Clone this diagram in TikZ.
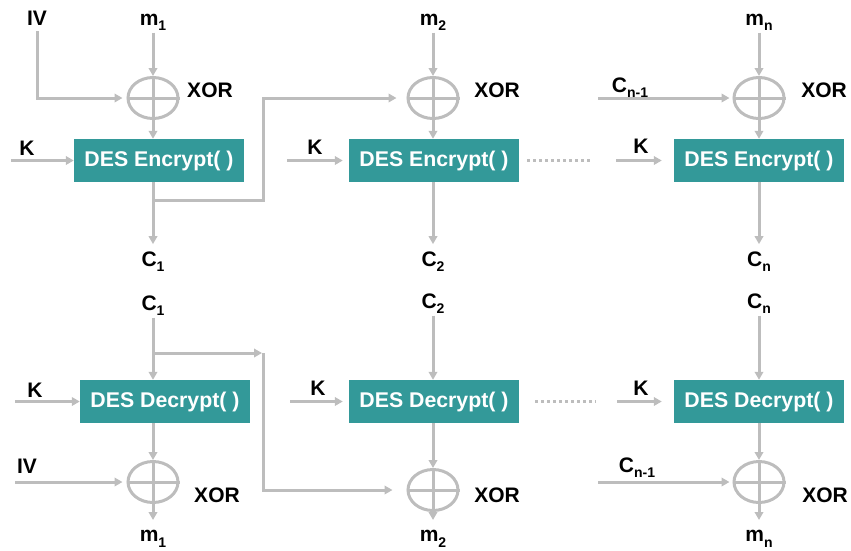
\documentclass[tikz,border=0pt]{standalone}
\usepackage{fontspec}
\setmainfont{Liberation Sans}
\usetikzlibrary{arrows.meta,shapes.geometric}
\definecolor{wirec}{HTML}{BDBDBD}
\definecolor{desfill}{HTML}{339999}
% lowered, smaller index used in the signal names
\newcommand{\idx}[1]{\raisebox{-5.5pt}{\fontsize{14}{14}\selectfont #1}}
\begin{document}
\begin{tikzpicture}[x=1pt,y=-1pt,
  wire/.style={draw=wirec, line width=3pt},
  arr/.style={wire, -{Triangle[length=8pt,width=8.5pt]}},
  xorop/.style={ellipse, draw=wirec, line width=3pt, minimum width=50pt, minimum height=41pt, inner sep=0pt},
  desbox/.style={fill=desfill, minimum width=170pt, minimum height=43pt, inner sep=0pt, text=white, font=\fontsize{21.3}{24}\selectfont\bfseries},
  lbl/.style={anchor=base, inner sep=2pt, font=\fontsize{21}{24}\selectfont\bfseries},
  dots/.style={draw=wirec, line width=3pt, dash pattern=on 3pt off 3pt}]
\useasboundingbox (0,0) rectangle (851,550);

% ---------- encryption chain ----------
% block 1
\node[lbl] (m1) at (153,25) {m\idx{1}};
\node[lbl] (iv1) at (37,25) {IV};
\node[xorop] (x1) at (153,98) {};
\node[lbl] (xl1) at (210,97) {XOR};
\node[desbox] (e1) at (159,160.5) {DES Encrypt( )};
\node[lbl] (k1) at (27,155) {K};
\node[lbl] (c1) at (153,266) {C\idx{1}};
\coordinate (k1s) at (11,160.5);
\coordinate (t1) at (153,200);
\coordinate (fb1) at (263,98);

% block 2
\node[lbl] (m2) at (433,25) {m\idx{2}};
\node[xorop] (x2) at (433,98) {};
\node[lbl] (xl2) at (497,97) {XOR};
\node[desbox] (e2) at (434,160.5) {DES Encrypt( )};
\node[lbl] (k2) at (315,154) {K};
\node[lbl] (c2) at (433,266) {C\idx{2}};
\coordinate (k2s) at (287,160.5);

% block n
\node[lbl] (mn) at (759,25) {m\idx{n}};
\node[lbl] (cp3) at (630,92) {C\idx{n-1}};
\node[xorop] (x3) at (759,98) {};
\node[lbl] (xl3) at (824,97) {XOR};
\node[desbox] (e3) at (759,160.5) {DES Encrypt( )};
\node[lbl] (k3) at (641,153) {K};
\node[lbl] (cn) at (759,266) {C\idx{n}};
\coordinate (k3s) at (616,160.5);
\coordinate (cp3s) at (598,98);

% XOR crosses
\foreach \n in {x1,x2,x3}
  \draw[wire] (\n.north) -- (\n.south) (\n.west) -- (\n.east);

% encryption wiring
\draw[arr] (m1) -- (x1);
\draw[arr, shorten <=4pt, shorten >=4pt] (iv1) |- (x1);
\draw[arr] (x1) -- (x1 |- e1.north);
\draw[arr] (k1s) -- (e1.west);
\draw[arr, shorten >=5pt] (x1 |- e1.south) -- (c1);
\draw[arr, shorten >=10pt] (t1) -| (fb1) -- (x2);

\draw[arr] (m2) -- (x2);
\draw[arr] (x2) -- (x2 |- e2.north);
\draw[arr, shorten >=6pt] (k2s) -- (e2.west);
\draw[arr, shorten >=5pt] (x2 |- e2.south) -- (c2);
\draw[dots] ([xshift=8pt]e2.east) -- ++(63,0);

\draw[arr] (mn) -- (x3);
\draw[arr, shorten >=3pt] (cp3s) -- (x3);
\draw[arr] (x3) -- (x3 |- e3.north);
\draw[arr, shorten >=12pt] (k3s) -- (e3.west);
\draw[arr, shorten >=5pt] (x3 |- e3.south) -- (cn);

% ---------- decryption chain ----------
% block 1
\node[lbl] (d1in) at (153,310) {C\idx{1}};
\node[desbox] (d1) at (165,401.5) {DES Decrypt( )};
\node[lbl] (kb1) at (35,397) {K};
\node[xorop] (y1) at (153,482) {};
\node[lbl] (ivb) at (27,473) {IV};
\node[lbl] (xlb1) at (217,502) {XOR};
\node[lbl] (p1) at (153,541.5) {m\idx{1}};
\coordinate (kb1s) at (15,401.5);
\coordinate (ivbs) at (15,482);
\coordinate (t2) at (153,353);
\coordinate (fb2) at (263,353);

% block 2
\node[lbl] (d2in) at (433,308) {C\idx{2}};
\node[desbox] (d2) at (434,401.5) {DES Decrypt( )};
\node[lbl] (kb2) at (318,395) {K};
\node[xorop] (y2) at (433,490) {};
\node[lbl] (xlb2) at (497,502) {XOR};
\node[lbl] (p2) at (433,541.5) {m\idx{2}};
\coordinate (kb2s) at (290,401.5);

% block n
\node[lbl] (d3in) at (759,308) {C\idx{n}};
\node[desbox] (d3) at (759,401.5) {DES Decrypt( )};
\node[lbl] (kb3) at (641,395) {K};
\node[xorop] (y3) at (759,482) {};
\node[lbl] (cpb) at (637,472) {C\idx{n-1}};
\node[lbl] (xlb3) at (825,502) {XOR};
\node[lbl] (pn) at (759,541.5) {m\idx{n}};
\coordinate (kb3s) at (617,401.5);
\coordinate (cpbs) at (598,482);

\foreach \n in {y1,y2,y3}
  \draw[wire] (\n.north) -- (\n.south) (\n.west) -- (\n.east);

% decryption wiring
\draw[arr] (d1in) -- (d1in |- d1.north);
\draw[arr] (kb1s) -- (d1.west);
\draw[arr] (y1 |- d1.south) -- (y1);
\draw[arr, shorten >=4pt] (ivbs) -- (y1);
\draw[arr, shorten >=8pt] (y1) -- (p1);
\draw[arr, shorten >=1pt] (t2) -- (fb2);
\draw[arr, shorten >=14pt] (fb2) |- (y2);

\draw[arr] (d2in) -- (d2in |- d2.north);
\draw[arr, shorten >=6pt] (kb2s) -- (d2.west);
\draw[arr] (y2 |- d2.south) -- (y2);
\draw[arr, shorten >=8pt] (y2) -- (p2);
\draw[dots] ([xshift=16pt]d2.east) -- ++(61,0);

\draw[arr] (d3in) -- (d3in |- d3.north);
\draw[arr, shorten >=12pt] (kb3s) -- (d3.west);
\draw[arr] (y3 |- d3.south) -- (y3);
\draw[arr, shorten >=3pt] (cpbs) -- (y3);
\draw[arr, shorten >=8pt] (y3) -- (pn);
\end{tikzpicture}
\end{document}
